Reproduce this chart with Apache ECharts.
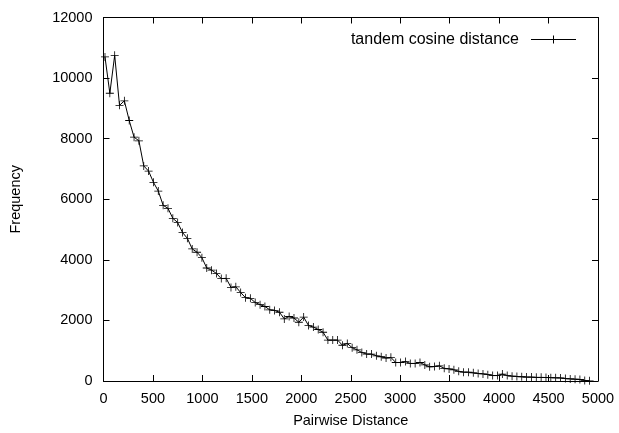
<!DOCTYPE html>
<html>
<head>
<meta charset="utf-8">
<script src="https://cdn.jsdelivr.net/npm/echarts@6/dist/echarts.min.js"></script>
<style>
  html, body { margin: 0; padding: 0; background: #fff; }
  #chart { width: 619px; height: 433px; }
</style>
</head>
<body>
<div id="chart"></div>
<script>
// pairwise distance (bin positions) and frequency
const distances = [
  15, 64, 113, 162, 211, 260, 309, 358, 407, 456,
  505, 554, 603, 652, 701, 750, 799, 848, 897, 946,
  995, 1044, 1093, 1142, 1191, 1240, 1289, 1338, 1387, 1436,
  1485, 1534, 1583, 1632, 1681, 1730, 1779, 1828, 1877, 1926,
  1975, 2024, 2073, 2122, 2171, 2220, 2269, 2318, 2367, 2416,
  2465, 2514, 2563, 2612, 2661, 2710, 2759, 2808, 2857, 2906,
  2955, 3004, 3053, 3102, 3151, 3200, 3249, 3298, 3347, 3396,
  3445, 3494, 3543, 3592, 3641, 3690, 3739, 3788, 3837, 3886,
  3935, 3984, 4033, 4082, 4131, 4180, 4229, 4278, 4327, 4376,
  4425, 4474, 4523, 4572, 4621, 4670, 4719, 4768, 4817, 4866,
  4915
]
const frequency = [
  10700, 9500, 10750, 9100, 9250, 8600, 8050, 7930, 7100, 6930,
  6560, 6270, 5800, 5700, 5370, 5230, 4900, 4710, 4360, 4250,
  4070, 3730, 3660, 3550, 3380, 3390, 3090, 3110, 2920, 2750,
  2730, 2590, 2520, 2460, 2350, 2330, 2270, 2050, 2130, 2080,
  1940, 2110, 1830, 1780, 1700, 1610, 1350, 1350, 1350, 1180,
  1240, 1100, 1030, 940, 890, 890, 830, 800, 760, 780,
  610, 610, 640, 580, 580, 610, 530, 470, 480, 500,
  420, 400, 370, 320, 290, 290, 270, 250, 235, 210,
  180, 180, 230, 180, 160, 150, 140, 130, 130, 120,
  120, 115, 110, 105, 100, 80, 70, 60, 50, 20,
  5
]
const seriesName = 'tandem cosine distance'

const chart = echarts.init(document.getElementById('chart'))
const font = 'Liberation Sans, Arial, sans-serif'
const plus = 'path://M0,4.5H10V5.5H0Z M4.5,0H5.5V10H4.5Z'
const plainNum = v => String(v)

const axisBase = {
  type: 'value',
  axisLine: { show: true, onZero: false, lineStyle: { color: '#000', width: 1 } },
  axisTick: { show: true, inside: true, length: 6, lineStyle: { color: '#000' } },
  splitLine: { show: false }
}

chart.setOption({
  animation: false,
  backgroundColor: '#fff',
  textStyle: { fontFamily: font },
  grid: { left: 103.5, right: 21, top: 17.5, bottom: 47.5 },
  legend: {
    data: [{ name: seriesName, icon: 'path://M0,3.5H45V4.5H0Z M22,0H23V8H22Z' }],
    right: 38, top: 26.5,
    align: 'right',
    itemWidth: 45, itemHeight: 8,
    itemStyle: { color: '#000' },
    textStyle: { fontSize: 16, color: '#000', fontFamily: font, padding: [0, 7, 0, 0] }
  },
  xAxis: [
    Object.assign({}, axisBase, {
      position: 'bottom', min: 0, max: 5000, interval: 500,
      name: 'Pairwise Distance', nameLocation: 'middle', nameGap: 32,
      nameTextStyle: { fontSize: 14.5, color: '#000' },
      axisLabel: { fontSize: 14.5, color: '#000', margin: 10, formatter: plainNum }
    }),
    Object.assign({}, axisBase, {
      position: 'top', min: 0, max: 5000, interval: 500,
      axisLabel: { show: false }
    })
  ],
  yAxis: [
    Object.assign({}, axisBase, {
      position: 'left', min: 0, max: 12000, interval: 2000,
      name: 'Frequency', nameLocation: 'middle', nameGap: 80,
      nameTextStyle: { fontSize: 14.5, color: '#000' },
      axisLabel: { fontSize: 14.5, color: '#000', margin: 11, formatter: plainNum }
    }),
    Object.assign({}, axisBase, {
      position: 'right', min: 0, max: 12000, interval: 2000,
      axisLabel: { show: false }
    })
  ],
  series: [{
    name: seriesName,
    type: 'line',
    xAxisIndex: 0, yAxisIndex: 0,
    data: distances.map((d, i) => [d, frequency[i]]),
    symbol: plus,
    symbolSize: 8,
    showAllSymbol: true,
    clip: false,
    lineStyle: { color: '#000', width: 1 },
    itemStyle: { color: '#000' }
  }]
})
</script>
</body>
</html>
